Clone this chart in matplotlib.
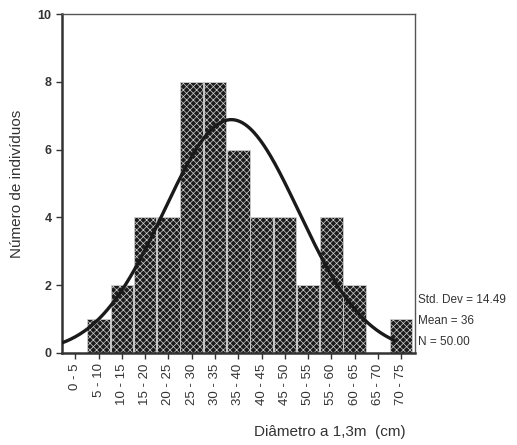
import numpy as np
import matplotlib
matplotlib.use("Agg")
import matplotlib.pyplot as plt

categories = ["0 - 5", "5 - 10", "10 - 15", "15 - 20", "20 - 25", "25 - 30", "30 - 35",
              "35 - 40", "40 - 45", "45 - 50", "50 - 55", "55 - 60", "60 - 65", "65 - 70", "70 - 75"]
counts = [0, 1, 2, 4, 4, 8, 8, 6, 4, 4, 2, 4, 2, 0, 1]
mean_val = 36.0
std_val = 14.49
n_val = 50
bin_width = 5.0
bin_start = 0.0
stats_labels = ["Std. Dev = 14.49", "Mean = 36", "N = 50.00"]

plt.rcParams['font.family'] = ['Liberation Sans', 'DejaVu Sans']
plt.rcParams['hatch.linewidth'] = 0.5

fig = plt.figure(figsize=(5.17, 4.45), dpi=100)
fig.patch.set_facecolor('white')
ax = fig.add_axes([0.12, 0.207, 0.683, 0.7615])

x = np.arange(len(categories))
ax.bar(x, counts, width=0.97, color='#1c1c1c', edgecolor='#cfcfcf',
       hatch='xxxxx', linewidth=0.6, zorder=2)

xlim = (-0.57, 14.6)
# normal curve in category units: value = bin_start + bin_width*(u + 0.5)
u = np.linspace(xlim[0], 13.75, 300)
v = bin_start + bin_width * (u + 0.5)
pdf = n_val * bin_width / (std_val * np.sqrt(2 * np.pi)) * np.exp(-0.5 * ((v - mean_val) / std_val) ** 2)
ax.plot(u, pdf, color='#1a1a1a', lw=2.4, zorder=3, clip_on=True)

ax.set_xlim(*xlim)
ax.set_ylim(0, 10)
ax.set_yticks([0, 2, 4, 6, 8, 10])
ax.set_yticklabels(["0", "2", "4", "6", "8", "10"], fontsize=9, fontweight='bold', color='#333333')
ax.set_xticks(x)
ax.set_xticklabels(categories, rotation=90, fontsize=9.5, color='#333333')
ax.tick_params(axis='both', length=4, width=1.0, color='#333333')

for s in ['left', 'bottom']:
    ax.spines[s].set_linewidth(1.8)
    ax.spines[s].set_color('#333333')
for s in ['top', 'right']:
    ax.spines[s].set_linewidth(1.0)
    ax.spines[s].set_color('#555555')

ax.set_ylabel("Número de indivíduos", fontsize=11, color='#333333', labelpad=10)
fig.text(330 / 517, 1 - 432 / 445, "Diâmetro a 1,3m  (cm)", fontsize=11, color='#333333',
         ha='center', va='center')

ys = [300, 321, 342]
for t, yy in zip(stats_labels, ys):
    fig.text(418 / 517, 1 - yy / 445, t, fontsize=8.5, color='#333333', ha='left', va='center')

fig.savefig("out.png", dpi=100, facecolor='white')
